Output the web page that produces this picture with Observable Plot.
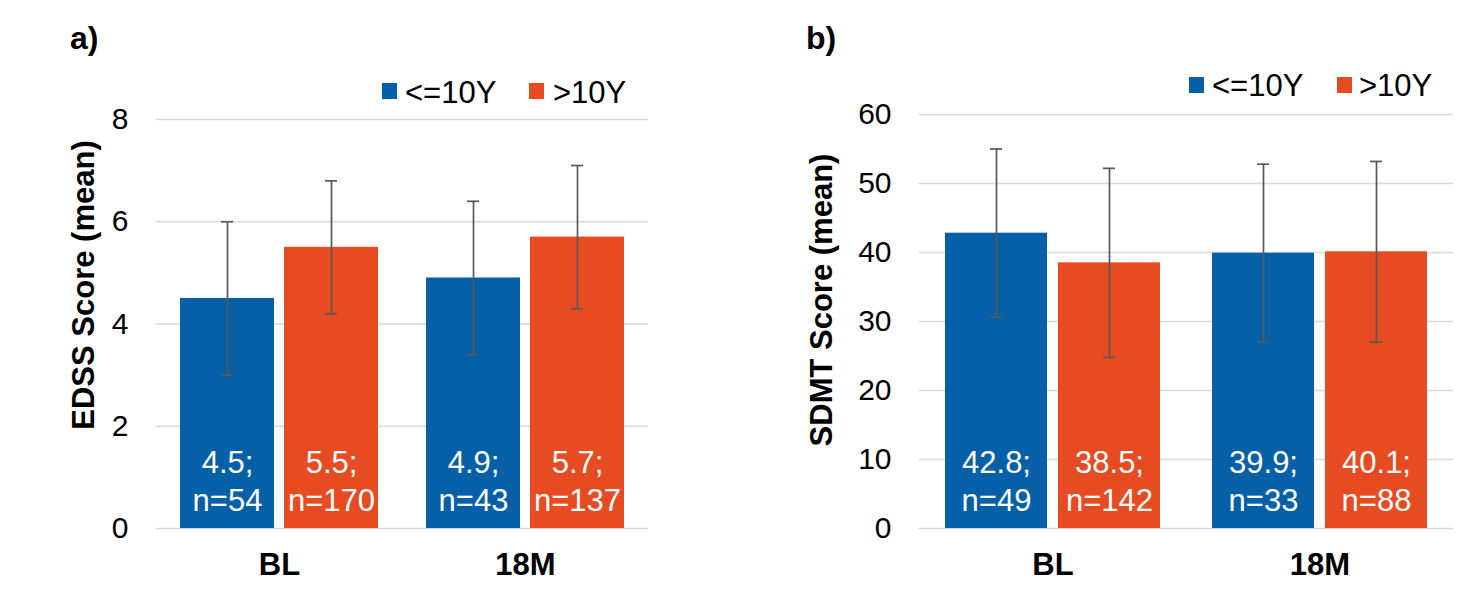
<!DOCTYPE html>
<html>
<head>
<meta charset="utf-8">
<script src="https://cdn.jsdelivr.net/npm/d3@7"></script>
<script src="https://cdn.jsdelivr.net/npm/@observablehq/plot@0.6"></script>
<style>
  body { margin: 0; background: #fff; }
  #wrap { position: relative; width: 1468px; height: 589px; overflow: hidden;
          font-family: "Liberation Sans", Arial, Helvetica, sans-serif; color: #000; }
  .abs { position: absolute; white-space: nowrap; line-height: 1; }
  .sw { position: absolute; width: 15px; height: 16px; }
  .plotbox { position: absolute; top: 0; }
  g[aria-label^="fx-axis"] text { font-weight: bold; font-size: 31px; }
</style>
</head>
<body>
<div id="wrap"></div>
<script>
// ---- data ----
const times = ["BL", "18M"];
const groups = ["<=10Y", ">10Y"];
const colors = ["#0560a8", "#e64b22"];

// order: BL <=10Y, BL >10Y, 18M <=10Y, 18M >10Y
const edssMean = [4.5, 5.5, 4.9, 5.7];
const edssN    = [54, 170, 43, 137];
const edssLow  = [3.0, 4.2, 3.4, 4.3];
const edssHigh = [6.0, 6.8, 6.4, 7.1];
const edssTicks = [0, 2, 4, 6, 8];

const sdmtMean = [42.8, 38.5, 39.9, 40.1];
const sdmtN    = [49, 142, 33, 88];
const sdmtLow  = [30.6, 24.8, 27.0, 27.0];
const sdmtHigh = [55.0, 52.2, 52.8, 53.2];
const sdmtTicks = [0, 10, 20, 30, 40, 50, 60];

const FONT = '"Liberation Sans", Arial, Helvetica, sans-serif';

function rows(mean, n, lo, hi) {
  return mean.map((m, i) => ({
    time: times[Math.floor(i / 2)],
    group: groups[i % 2],
    mean: m, n: n[i], lo: lo[i], hi: hi[i],
    label: `${m.toFixed(1)};\nn=${n[i]}`
  }));
}

function chart(data, {ticks, mL, mR, mT, capInset}) {
  return Plot.plot({
    width: 734, height: 589,
    marginLeft: mL, marginRight: mR, marginTop: mT, marginBottom: 61,
    style: {fontFamily: FONT, fontSize: "30px", background: "transparent", color: "#000", overflow: "visible"},
    fx: {domain: times, padding: 0, axis: "bottom", label: null, tickSize: 0, tickPadding: 24},
    x: {domain: groups, paddingInner: 0.1, paddingOuter: 0.23, axis: null},
    y: {domain: [ticks[0], ticks[ticks.length - 1]], ticks: ticks, tickSize: 0, tickPadding: 28, label: null},
    color: {domain: groups, range: colors},
    marks: [
      Plot.ruleY(ticks, {stroke: "#d9d9d9", strokeWidth: 1.3}),
      Plot.barY(data, {fx: "time", x: "group", y: "mean", fill: "group"}),
      Plot.ruleX(data, {fx: "time", x: "group", y1: "lo", y2: "hi", stroke: "#595959", strokeWidth: 1.7}),
      Plot.tickY(data, {fx: "time", x: "group", y: "lo", stroke: "#595959", strokeWidth: 1.7, insetLeft: capInset, insetRight: capInset}),
      Plot.tickY(data, {fx: "time", x: "group", y: "hi", stroke: "#595959", strokeWidth: 1.7, insetLeft: capInset, insetRight: capInset}),
      Plot.text(data, {fx: "time", x: "group", frameAnchor: "bottom", text: "label", fill: "white",
        fontSize: 31, lineHeight: 1.2, lineAnchor: "bottom", dy: -18})
    ]
  });
}

const wrap = document.getElementById("wrap");

function place(node, left) {
  const d = document.createElement("div");
  d.className = "plotbox";
  d.style.left = left + "px";
  d.appendChild(node);
  wrap.appendChild(d);
}

function txt(x, baseline, s, size, weight) {
  const d = document.createElement("div");
  d.className = "abs";
  d.textContent = s;
  d.style.left = x + "px";
  d.style.top = (baseline - 0.8465 * size) + "px";
  d.style.fontSize = size + "px";
  if (weight) d.style.fontWeight = weight;
  wrap.appendChild(d);
}

function swatch(x, y, color) {
  const d = document.createElement("div");
  d.className = "sw";
  d.style.left = x + "px";
  d.style.top = y + "px";
  d.style.background = color;
  wrap.appendChild(d);
}

function ytitle(cx, cy, s) {
  const d = document.createElement("div");
  d.className = "abs";
  d.textContent = s;
  d.style.left = cx + "px";
  d.style.top = cy + "px";
  d.style.fontSize = "31px";
  d.style.fontWeight = "bold";
  d.style.lineHeight = "normal";
  d.style.transform = "translate(-50%, -50%) rotate(-90deg)";
  wrap.appendChild(d);
}

place(chart(rows(edssMean, edssN, edssLow, edssHigh), {ticks: edssTicks, mL: 155, mR: 86, mT: 119, capInset: 41}), 0);
place(chart(rows(sdmtMean, sdmtN, sdmtLow, sdmtHigh), {ticks: sdmtTicks, mL: 185, mR: 15, mT: 114, capInset: 45}), 734);

// panel a overlays
txt(70, 49, "a)", 32, "bold");
swatch(382, 83, colors[0]); txt(405, 103, groups[0], 31);
swatch(529, 83, colors[1]); txt(553, 103, groups[1], 31);
ytitle(84, 285, "EDSS Score (mean)");

// panel b overlays
txt(806, 49, "b)", 32, "bold");
swatch(1189, 77, colors[0]); txt(1212, 96, groups[0], 31);
swatch(1337, 77, colors[1]); txt(1359, 96, groups[1], 31);
ytitle(822, 300, "SDMT Score (mean)");
</script>
</body>
</html>
